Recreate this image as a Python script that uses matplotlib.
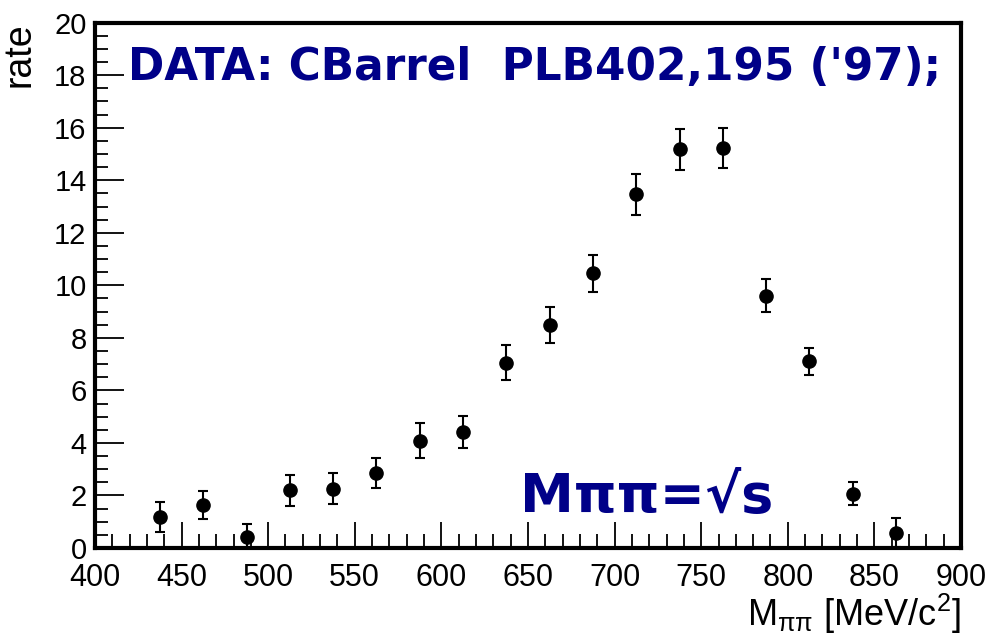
import matplotlib.pyplot as plt
from matplotlib.ticker import MultipleLocator

# pi pi invariant mass spectrum, 25 MeV bins
mass = [437.5, 462.5, 487.5, 512.5, 537.5, 562.5, 587.5, 612.5, 637.5,
        662.5, 687.5, 712.5, 737.5, 762.5, 787.5, 812.5, 837.5, 862.5]
rate = [1.19, 1.63, 0.41, 2.19, 2.25, 2.86, 4.09, 4.41, 7.05,
        8.49, 10.45, 13.46, 15.18, 15.23, 9.61, 7.10, 2.07, 0.58]
err = [0.57, 0.53, 0.50, 0.58, 0.59, 0.58, 0.65, 0.62, 0.67,
       0.70, 0.72, 0.78, 0.78, 0.76, 0.64, 0.53, 0.45, 0.56]

plt.rcParams['font.family'] = ['Liberation Sans', 'DejaVu Sans']
plt.rcParams['mathtext.fontset'] = 'custom'
plt.rcParams['mathtext.rm'] = 'Liberation Sans'
plt.rcParams['mathtext.it'] = 'Liberation Sans:italic'

fig = plt.figure(figsize=(9.89, 6.37), dpi=100)
ax = fig.add_axes([0.096, 0.1397, 0.8757, 0.8248])

ax.errorbar(mass, rate, yerr=err, fmt='o', color='black', markersize=9.5,
            elinewidth=1.5, capsize=3.5, capthick=1.5)

ax.set_xlim(400, 900)
ax.set_ylim(0, 20)
ax.xaxis.set_major_locator(MultipleLocator(50))
ax.xaxis.set_minor_locator(MultipleLocator(10))
ax.yaxis.set_major_locator(MultipleLocator(2))
ax.yaxis.set_minor_locator(MultipleLocator(0.5))
ax.tick_params(which='both', direction='in', width=1.3)
ax.tick_params(axis='x', which='major', length=19, pad=11, labelsize=22)
ax.tick_params(axis='x', which='minor', length=10)
ax.tick_params(axis='y', which='major', length=21, pad=6, labelsize=21)
ax.tick_params(axis='y', which='minor', length=9)
for s in ax.spines.values():
    s.set_linewidth(3)

ax.set_ylabel('rate', fontsize=27)
ax.yaxis.set_label_coords(-0.066, 1.0)
ax.yaxis.label.set_ha('right')
ax.set_xlabel(r'M$_{\mathrm{ππ}}$ [MeV/c$^{\mathrm{2}}$]', fontsize=26)
ax.xaxis.set_label_coords(1.0, -0.084)
ax.xaxis.label.set_ha('right')

ax.text(0.038, 0.914, "DATA: CBarrel  PLB402,195 ('97);", transform=ax.transAxes,
        fontsize=31.5, fontweight='bold', color='#000088', va='center', ha='left',
        family='DejaVu Sans', clip_on=False)
ax.text(0.491, 0.097, 'Mππ=√s', transform=ax.transAxes,
        fontsize=39, fontweight='bold', color='#000088', va='center', ha='left',
        family='DejaVu Sans')

fig.savefig('out.png', dpi=100)
